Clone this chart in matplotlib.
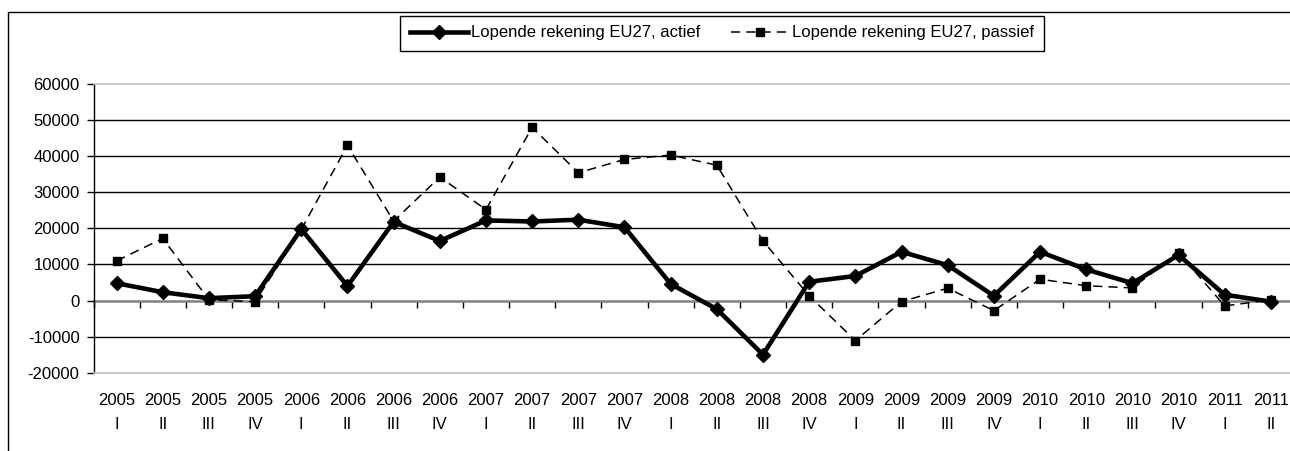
import numpy as np
import matplotlib
matplotlib.use("Agg")
import matplotlib.pyplot as plt
from matplotlib.patches import Rectangle
from matplotlib.transforms import blended_transform_factory

plt.rcParams['font.family'] = ['Liberation Sans', 'DejaVu Sans']

# Kwartalen
jaren = ['2005', '2005', '2005', '2005', '2006', '2006', '2006', '2006',
         '2007', '2007', '2007', '2007', '2008', '2008', '2008', '2008',
         '2009', '2009', '2009', '2009', '2010', '2010', '2010', '2010',
         '2011', '2011']
kwartalen = ['I', 'II', 'III', 'IV'] * 6 + ['I', 'II']

# Lopende rekening EU27
actief = [4800, 2300, 650, 1200, 19800, 4000, 21800, 16500,
          22200, 21900, 22400, 20300, 4600, -2400, -15000, 5200,
          6800, 13500, 9800, 1300, 13500, 8600, 4800, 12600,
          1600, -300]
passief = [11000, 17200, 200, -300, 19700, 43000, 22000, 34200,
           25200, 48000, 35400, 39100, 40300, 37500, 16500, 1300,
           -11100, -300, 3400, -2800, 5900, 4100, 3500, 13200,
           -1500, 200]

yticks = list(range(-20000, 60001, 10000))

fig = plt.figure(figsize=(12.9, 4.51), dpi=100)
fig.patch.set_facecolor('white')

# buitenrand van de grafiek
fig.add_artist(Rectangle((8 / 1290, -0.1), 1.2, 0.1 + (1 - 12 / 451),
                         transform=fig.transFigure, fill=False,
                         edgecolor='black', lw=1.0))

ax = fig.add_axes([93.5 / 1290, 1 - 372.7 / 451, (1294 - 93.5) / 1290, (372.7 - 84) / 451])
x = np.arange(len(actief))

ax.plot(x, actief, color='black', lw=3.3, marker='D', markersize=7,
        label='Lopende rekening EU27, actief', zorder=4)
ax.plot(x, passief, color='black', lw=1.1, linestyle=(0, (6, 4)), marker='s',
        markersize=6, label='Lopende rekening EU27, passief', zorder=3)

ax.set_xlim(-0.5, len(actief) - 0.5)
ax.set_ylim(-20000, 60000)
ax.set_yticks(yticks)
ax.set_yticklabels([str(v) for v in yticks], fontsize=12)
ax.tick_params(axis='y', direction='out', length=5, width=1, pad=5, color='black')
ax.set_xticks([])

ax.yaxis.grid(True, color='black', lw=1.0)
ax.set_axisbelow(True)
for v, gl in zip(yticks, ax.get_ygridlines()):
    # nul-lijn en randen worden apart getekend
    if v in (-20000, 0, 60000):
        gl.set_visible(False)

for side in ('top', 'bottom', 'right'):
    ax.spines[side].set_color('#c0c0c0')
    ax.spines[side].set_linewidth(1.2)
ax.spines['left'].set_color('black')
ax.spines['left'].set_linewidth(1.0)

# nul-as met streepjes tussen de kwartalen
sec = ax.secondary_xaxis(0.25)
sec.set_xticks(np.arange(-0.5, len(actief), 1.0))
sec.set_xticklabels([])
sec.tick_params(direction='out', length=5, width=1, color='black')
sec.spines['bottom'].set_color('#808080')
sec.spines['bottom'].set_linewidth(1.8)

trans = blended_transform_factory(ax.transData, ax.transAxes)
for i, (j, k) in enumerate(zip(jaren, kwartalen)):
    ax.text(i, -0.097, j, transform=trans, ha='center', va='center', fontsize=12)
    ax.text(i, -0.181, k, transform=trans, ha='center', va='center', fontsize=12)

fig.legend(loc='center', bbox_to_anchor=(722 / 1290, 1 - 33 / 451), ncol=2,
           fontsize=12, frameon=True, fancybox=False, edgecolor='black',
           framealpha=1, handlelength=3.5, handletextpad=0.15, columnspacing=1.85,
           borderpad=0.6, borderaxespad=0)

fig.savefig('out.png', dpi=100, facecolor='white')
